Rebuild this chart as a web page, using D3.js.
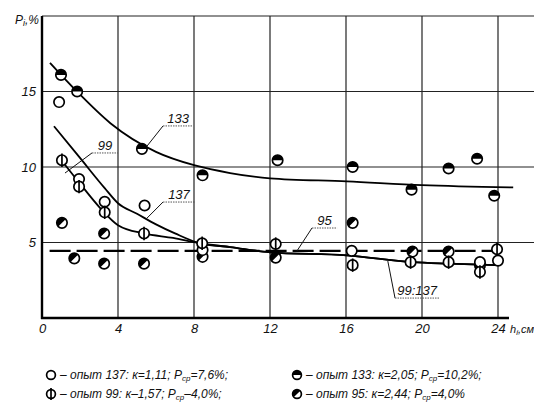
<!DOCTYPE html>
<html><head><meta charset="utf-8">
<script src="https://cdn.jsdelivr.net/npm/d3@7"></script>
<style>
body{margin:0;background:#fff;}
svg text{font-family:"Liberation Sans Narrow","Liberation Sans",sans-serif;font-style:italic;fill:#111;}
</style></head><body>
<svg id="chart" width="534" height="405"></svg>
<script>
// Axis ticks
const xTicks = [0, 4, 8, 12, 16, 20, 24];
const yTicks = [5, 10, 15];

// Measured points: [h, P]
const exp137 = [[0.9,14.3],[1.95,9.2],[3.3,7.7],[5.4,7.45],[8.45,4.5],[16.3,4.45],[23.05,3.7],[24.0,3.8]];
const exp99  = [[1.05,10.45],[1.95,8.7],[3.3,7.0],[5.37,5.6],[8.43,4.95],[12.3,4.9],[16.35,3.5],[19.4,3.7],[21.4,3.7],[23.05,3.05],[23.95,4.55]];
const exp133 = [[1.0,16.1],[1.85,15.0],[5.26,11.2],[8.45,9.45],[12.4,10.45],[16.35,10.0],[19.45,8.5],[21.4,9.9],[22.9,10.55],[23.8,8.1]];
const exp95  = [[1.05,6.3],[1.7,3.95],[3.27,5.6],[3.27,3.6],[5.37,3.6],[8.45,4.05],[12.3,4.0],[16.35,6.3],[19.5,4.4],[21.4,4.4],[23.05,3.5]];

// Fitted curves
const curve133 = [[0.42,16.9],[1.84,15.0],[3.6,12.9],[6.0,11.0],[8.05,10.1],[9.9,9.6],[12.0,9.25],[16.05,9.05],[20,8.8],[24.8,8.65]];
const head137  = [[0.63,12.7],[2.0,10.6],[3.3,8.6],[4.0,7.6],[5.0,6.9],[6.0,6.2],[7.0,5.6],[8.3,4.95]];
const head99   = [[1.05,10.4],[2.0,8.9],[3.05,7.3],[4.0,6.15],[5.37,5.6],[6.9,5.3],[8.3,4.95]];
const tail99137 = [[8.3,4.95],[9.9,4.7],[12.0,4.35],[16.05,4.15],[19.5,3.7],[21.4,3.6],[23.9,3.5]];
const level95 = 4.45;
const span95 = [0.4, 23.75];

// Curve labels: text, leader end on curve, elbow, underline end
const notes = [
  {text:"133",    end:[5.53,11.39], elbow:[6.37,12.72], to:7.95},
  {text:"99",     end:[1.21,9.6],   elbow:[2.63,10.93], to:4.0},
  {text:"137",    end:[5.53,6.62],  elbow:[6.37,7.68],  to:8.05},
  {text:"95",     end:[13.42,4.44], elbow:[14.21,5.96], to:15.53},
  {text:"99:137", end:[18.2,3.77],  elbow:[18.58,1.32], to:20.9}
];

// Legend entries
const legendItems = [
  {sym:"open", col:0, row:0, a:"– опыт 137: к=1,11; P", b:"=7,6%;"},
  {sym:"top",  col:1, row:0, a:"– опыт 133: к=2,05; P", b:"=10,2%;"},
  {sym:"phi",  col:0, row:1, a:"– опыт 99: к–1,57; P",  b:"–4,0%;"},
  {sym:"diag", col:1, row:1, a:"– опыт 95: к=2,44; P",  b:"=4,0%"}
];

const svg = d3.select("#chart");
svg.append("rect").attr("width",534).attr("height",405).attr("fill","#fff");

const x = d3.scaleLinear().domain([0,24]).range([42,498]);
const y = d3.scaleLinear().domain([0,20]).range([318,16]);
const W = 534;

// grid
const grid = svg.append("g").attr("stroke","#222").attr("stroke-width",1.2).attr("fill","none");
xTicks.filter(d=>d>0).forEach(d=>{
  grid.append("line").attr("x1",x(d)).attr("x2",x(d)).attr("y1",y(20)).attr("y2",y(0));
});
yTicks.concat([20]).forEach(d=>{
  grid.append("line").attr("x1",x(0)).attr("x2",W).attr("y1",y(d)).attr("y2",y(d));
});

// axes
svg.append("line").attr("x1",x(0)).attr("x2",x(0)).attr("y1",y(20)).attr("y2",y(0)+1)
  .attr("stroke","#000").attr("stroke-width",2.4);
svg.append("line").attr("x1",x(0)-1).attr("x2",509).attr("y1",y(0)).attr("y2",y(0))
  .attr("stroke","#000").attr("stroke-width",2.4);

const gx = svg.append("g").attr("transform",`translate(0,${y(0)})`)
  .call(d3.axisBottom(x).tickValues(xTicks).tickSize(0).tickPadding(6));
const gy = svg.append("g").attr("transform",`translate(${x(0)},0)`)
  .call(d3.axisLeft(y).tickValues(yTicks).tickSize(0).tickPadding(6));
[gx,gy].forEach(g=>{
  g.select(".domain").remove();
  g.attr("font-family",null);
  g.selectAll("text").attr("font-size",13).attr("fill","#111");
});

// axis titles
const yt = svg.append("text").attr("x",15).attr("y",24).attr("font-size",12);
yt.append("tspan").text("P");
yt.append("tspan").attr("font-size",9).attr("dy",2).text("i");
yt.append("tspan").attr("dy",-2).text(",%");
const xt = svg.append("text").attr("x",510).attr("y",333).attr("font-size",11);
xt.append("tspan").text("h");
xt.append("tspan").attr("font-size",8).attr("dy",2).text("i");
xt.append("tspan").attr("dy",-2).text(",см");

// curves
const line = d3.line().x(d=>x(d[0])).y(d=>y(d[1])).curve(d3.curveMonotoneX);
const curves = svg.append("g").attr("fill","none").attr("stroke","#000").attr("stroke-width",1.8);
curves.append("path").attr("d",line(curve133));
curves.append("path").attr("d",line(head137.concat(tail99137.slice(1))));
curves.append("path").attr("d",line(head99.concat(tail99137.slice(1))));
svg.append("line").attr("x1",x(span95[0])).attr("x2",x(span95[1]))
  .attr("y1",y(level95)).attr("y2",y(level95))
  .attr("stroke","#000").attr("stroke-width",2.2).attr("stroke-dasharray","21,6");

// curve labels with leaders
const ng = svg.append("g");
notes.forEach(n=>{
  ng.append("line").attr("x1",x(n.end[0])).attr("y1",y(n.end[1]))
    .attr("x2",x(n.elbow[0])).attr("y2",y(n.elbow[1]))
    .attr("stroke","#111").attr("stroke-width",1);
  ng.append("line").attr("x1",x(n.elbow[0])).attr("y1",y(n.elbow[1]))
    .attr("x2",x(n.to)).attr("y2",y(n.elbow[1]))
    .attr("stroke","#555").attr("stroke-width",1).attr("stroke-dasharray","1.5,1");
  ng.append("text").attr("x",(x(n.elbow[0])+x(n.to))/2).attr("y",y(n.elbow[1])-3)
    .attr("text-anchor","middle").attr("font-size",13).text(n.text);
});

// point symbols
function symbol(g, type, r){
  g.append("circle").attr("r",r).attr("fill","#fff").attr("stroke","#000").attr("stroke-width",1.7);
  const a = r*Math.SQRT1_2;
  if(type==="top"){
    g.append("path").attr("d",`M${-r},0A${r},${r} 0 0 1 ${r},0Z`).attr("fill","#000");
  } else if(type==="diag"){
    g.append("path").attr("d",`M${-a},${a}A${r},${r} 0 0 1 ${a},${-a}Z`).attr("fill","#000");
  } else if(type==="phi"){
    g.append("line").attr("x1",0).attr("x2",0).attr("y1",-r-1.5).attr("y2",r+1.5)
      .attr("stroke","#000").attr("stroke-width",1.7);
  }
}
const series = [[exp95,"diag"],[exp137,"open"],[exp133,"top"],[exp99,"phi"]];
series.forEach(([data,type])=>{
  svg.append("g").selectAll("g").data(data).join("g")
    .attr("transform",d=>`translate(${x(d[0])},${y(d[1])})`)
    .each(function(){ symbol(d3.select(this), type, 5.2); });
});

// legend
const colX = [51, 297], rowY = [375, 394];
legendItems.forEach(it=>{
  const g = svg.append("g").attr("transform",`translate(${colX[it.col]},${rowY[it.row]})`);
  symbol(g, it.sym, 4.4);
  const t = g.append("text").attr("x",9).attr("y",4).attr("font-size",12);
  t.append("tspan").text(it.a);
  t.append("tspan").attr("font-size",8).attr("dy",2).text("ср");
  t.append("tspan").attr("dy",-2).text(it.b);
});
</script>
</body></html>
